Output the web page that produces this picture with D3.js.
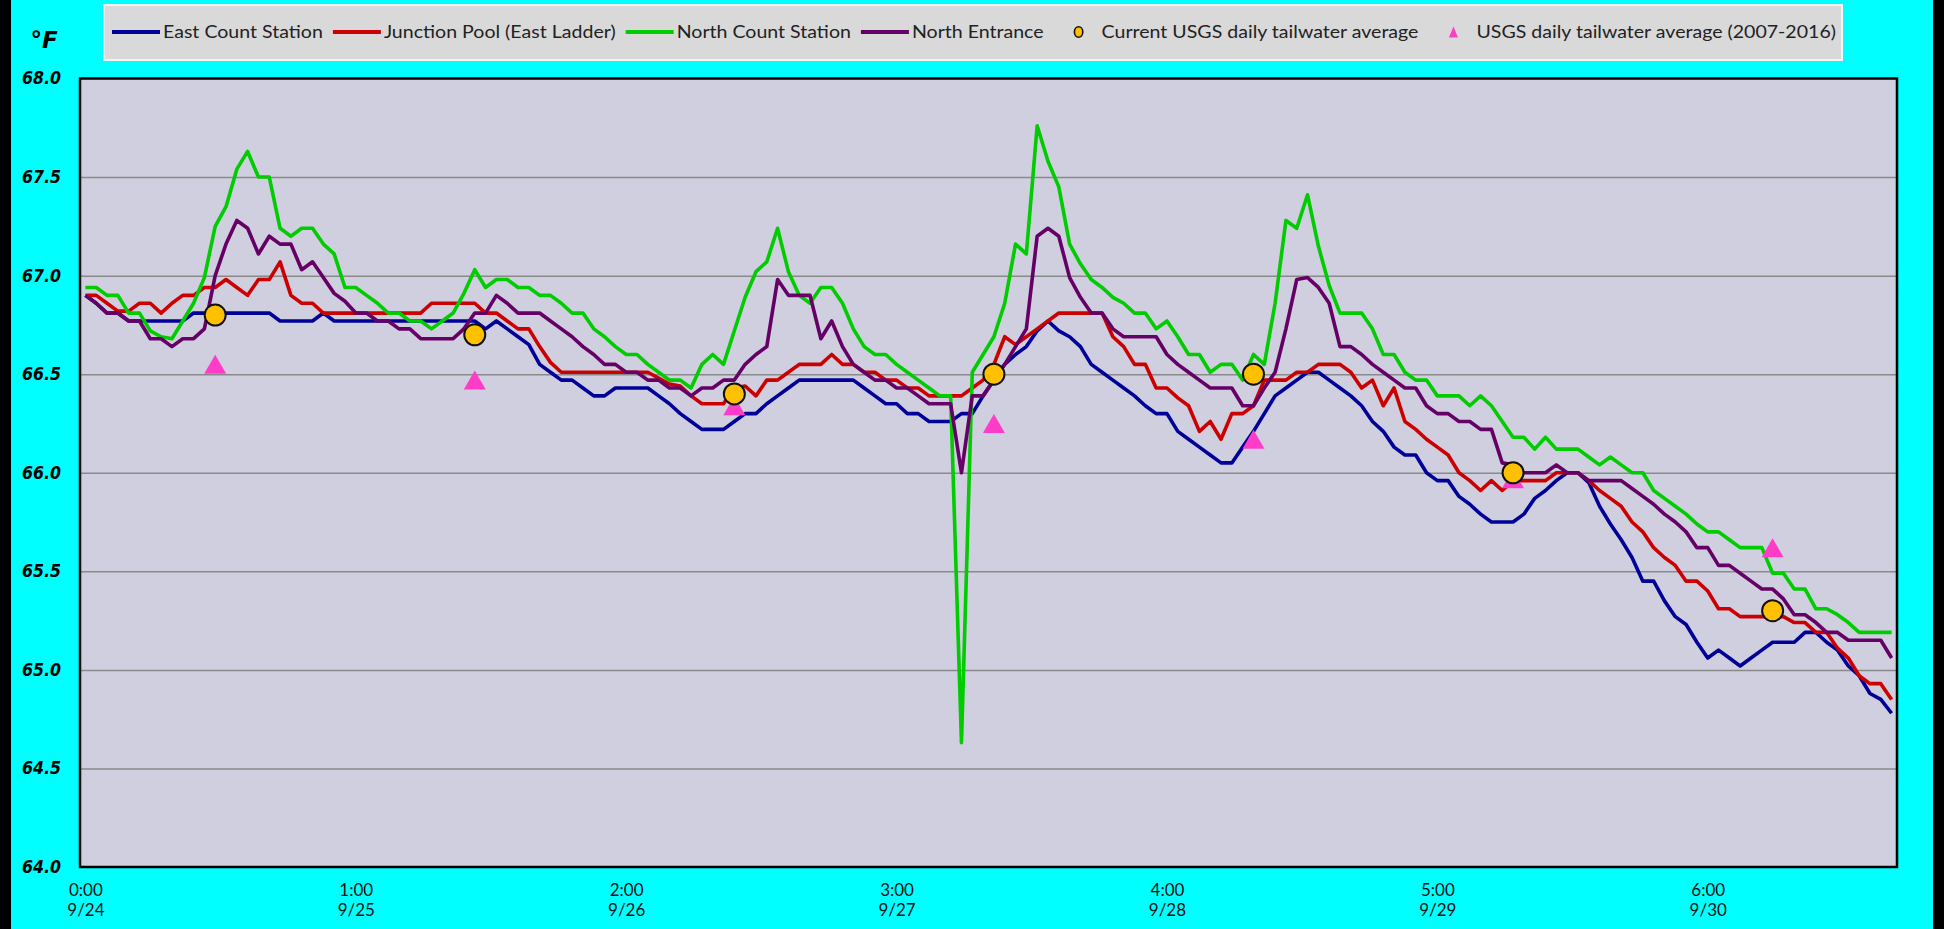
<!DOCTYPE html>
<html>
<head>
<meta charset="utf-8">
<script src="https://cdn.jsdelivr.net/npm/d3@7"></script>
<style>
  body { margin: 0; background: #00ffff; overflow: hidden; }
  svg { display: block; }
</style>
</head>
<body>
<div id="chart"></div>
<script>
// hourly readings, 9/24 0:00 .. 9/30 23:00
const eastCount = [
  66.90, 66.86, 66.81, 66.81, 66.77, 66.77, 66.77, 66.77, 66.77, 66.77,
  66.81, 66.81, 66.81, 66.81, 66.81, 66.81, 66.81, 66.81, 66.77, 66.77,
  66.77, 66.77, 66.81, 66.77, 66.77, 66.77, 66.77, 66.77, 66.77, 66.77,
  66.77, 66.77, 66.77, 66.77, 66.77, 66.77, 66.77, 66.73, 66.77, 66.73,
  66.69, 66.65, 66.55, 66.51, 66.47, 66.47, 66.43, 66.39, 66.39, 66.43,
  66.43, 66.43, 66.43, 66.39, 66.35, 66.30, 66.26, 66.22, 66.22, 66.22,
  66.26, 66.30, 66.30, 66.35, 66.39, 66.43, 66.47, 66.47, 66.47, 66.47,
  66.47, 66.47, 66.43, 66.39, 66.35, 66.35, 66.30, 66.30, 66.26, 66.26,
  66.26, 66.30, 66.30, 66.39, 66.47, 66.55, 66.60, 66.64, 66.72, 66.77,
  66.72, 66.69, 66.64, 66.55, 66.51, 66.47, 66.43, 66.39, 66.34, 66.30,
  66.30, 66.21, 66.17, 66.13, 66.09, 66.05, 66.05, 66.13, 66.21, 66.30,
  66.39, 66.43, 66.47, 66.51, 66.51, 66.47, 66.43, 66.39, 66.34, 66.26,
  66.21, 66.13, 66.09, 66.09, 66.00, 65.96, 65.96, 65.88, 65.84, 65.79,
  65.75, 65.75, 65.75, 65.79, 65.87, 65.91, 65.96, 66.00, 66.00, 65.95,
  65.83, 65.74, 65.66, 65.57, 65.45, 65.45, 65.35, 65.27, 65.23, 65.14,
  65.06, 65.10, 65.06, 65.02, 65.06, 65.10, 65.14, 65.14, 65.14, 65.19,
  65.19, 65.14, 65.10, 65.02, 64.97, 64.88, 64.85, 64.78
];
const junctionPool = [
  66.90, 66.90, 66.86, 66.82, 66.82, 66.86, 66.86, 66.81, 66.86, 66.90,
  66.90, 66.94, 66.94, 66.98, 66.94, 66.90, 66.98, 66.98, 67.07, 66.90,
  66.86, 66.86, 66.81, 66.81, 66.81, 66.81, 66.81, 66.81, 66.81, 66.81,
  66.81, 66.81, 66.86, 66.86, 66.86, 66.86, 66.86, 66.81, 66.81, 66.77,
  66.73, 66.73, 66.64, 66.56, 66.51, 66.51, 66.51, 66.51, 66.51, 66.51,
  66.51, 66.51, 66.51, 66.48, 66.45, 66.44, 66.39, 66.35, 66.35, 66.35,
  66.43, 66.44, 66.39, 66.47, 66.47, 66.51, 66.55, 66.55, 66.55, 66.60,
  66.55, 66.55, 66.51, 66.51, 66.47, 66.47, 66.43, 66.43, 66.39, 66.39,
  66.39, 66.39, 66.43, 66.47, 66.55, 66.69, 66.65, 66.69, 66.73, 66.77,
  66.81, 66.81, 66.81, 66.81, 66.81, 66.69, 66.64, 66.55, 66.55, 66.43,
  66.43, 66.38, 66.34, 66.21, 66.26, 66.17, 66.30, 66.30, 66.34, 66.47,
  66.47, 66.47, 66.51, 66.51, 66.55, 66.55, 66.55, 66.51, 66.43, 66.47,
  66.34, 66.43, 66.26, 66.22, 66.17, 66.13, 66.09, 66.00, 65.96, 65.91,
  65.96, 65.91, 65.96, 65.96, 65.96, 65.96, 66.00, 66.00, 66.00, 65.96,
  65.91, 65.87, 65.83, 65.75, 65.70, 65.62, 65.57, 65.53, 65.45, 65.45,
  65.40, 65.31, 65.31, 65.27, 65.27, 65.27, 65.27, 65.27, 65.24, 65.24,
  65.19, 65.19, 65.11, 65.06, 64.97, 64.93, 64.93, 64.85
];
const northCount = [
  66.94, 66.94, 66.90, 66.90, 66.81, 66.81, 66.72, 66.69, 66.68, 66.77,
  66.86, 66.99, 67.25, 67.35, 67.54, 67.63, 67.50, 67.50, 67.24, 67.20,
  67.24, 67.24, 67.16, 67.11, 66.94, 66.94, 66.90, 66.86, 66.81, 66.81,
  66.77, 66.77, 66.73, 66.77, 66.81, 66.91, 67.03, 66.94, 66.98, 66.98,
  66.94, 66.94, 66.90, 66.90, 66.86, 66.81, 66.81, 66.73, 66.69, 66.64,
  66.60, 66.60, 66.55, 66.51, 66.47, 66.47, 66.43, 66.55, 66.60, 66.55,
  66.72, 66.89, 67.02, 67.07, 67.24, 67.02, 66.90, 66.86, 66.94, 66.94,
  66.86, 66.73, 66.64, 66.60, 66.60, 66.55, 66.51, 66.47, 66.43, 66.39,
  66.39, 64.63, 66.51, 66.60, 66.69, 66.86, 67.16, 67.11, 67.76, 67.58,
  67.45, 67.16, 67.06, 66.98, 66.94, 66.89, 66.86, 66.81, 66.81, 66.73,
  66.77, 66.69, 66.60, 66.60, 66.51, 66.55, 66.55, 66.47, 66.60, 66.55,
  66.86, 67.28, 67.24, 67.41, 67.15, 66.95, 66.81, 66.81, 66.81, 66.73,
  66.60, 66.60, 66.51, 66.47, 66.47, 66.39, 66.39, 66.39, 66.34, 66.39,
  66.34, 66.26, 66.18, 66.18, 66.12, 66.18, 66.12, 66.12, 66.12, 66.08,
  66.04, 66.08, 66.04, 66.00, 66.00, 65.91, 65.87, 65.83, 65.79, 65.74,
  65.70, 65.70, 65.66, 65.62, 65.62, 65.62, 65.49, 65.49, 65.41, 65.41,
  65.31, 65.31, 65.28, 65.24, 65.19, 65.19, 65.19, 65.19
];
const northEntrance = [
  66.90, 66.86, 66.81, 66.81, 66.77, 66.77, 66.68, 66.68, 66.64, 66.68,
  66.68, 66.73, 67.00, 67.16, 67.28, 67.24, 67.11, 67.20, 67.16, 67.16,
  67.03, 67.07, 66.99, 66.91, 66.87, 66.81, 66.81, 66.77, 66.77, 66.73,
  66.73, 66.68, 66.68, 66.68, 66.68, 66.73, 66.81, 66.81, 66.90, 66.86,
  66.81, 66.81, 66.81, 66.77, 66.73, 66.69, 66.64, 66.60, 66.55, 66.55,
  66.51, 66.51, 66.47, 66.47, 66.43, 66.43, 66.39, 66.43, 66.43, 66.47,
  66.47, 66.55, 66.60, 66.64, 66.98, 66.90, 66.90, 66.90, 66.68, 66.77,
  66.64, 66.55, 66.51, 66.47, 66.47, 66.43, 66.43, 66.39, 66.35, 66.35,
  66.35, 66.00, 66.39, 66.39, 66.47, 66.55, 66.64, 66.73, 67.20, 67.24,
  67.20, 66.99, 66.89, 66.81, 66.81, 66.73, 66.69, 66.69, 66.69, 66.69,
  66.60, 66.55, 66.51, 66.47, 66.43, 66.43, 66.43, 66.34, 66.34, 66.43,
  66.51, 66.73, 66.98, 66.99, 66.94, 66.86, 66.64, 66.64, 66.60, 66.55,
  66.51, 66.47, 66.43, 66.43, 66.34, 66.30, 66.30, 66.26, 66.26, 66.22,
  66.22, 66.05, 66.04, 66.00, 66.00, 66.00, 66.04, 66.00, 66.00, 65.96,
  65.96, 65.96, 65.96, 65.92, 65.88, 65.84, 65.79, 65.75, 65.70, 65.62,
  65.62, 65.53, 65.53, 65.49, 65.45, 65.41, 65.41, 65.36, 65.28, 65.28,
  65.24, 65.19, 65.19, 65.15, 65.15, 65.15, 65.15, 65.06
];

// daily markers (placed at noon of each day)
const markerHours = [12, 36, 60, 84, 108, 132, 156];
const usgsCurrent = [66.8, 66.7, 66.4, 66.5, 66.5, 66.0, 65.3];
const usgsHistoric = [66.55, 66.47, 66.34, 66.25, 66.17, 65.97, 65.62];

const tickHours = [0, 25, 50, 75, 100, 125, 150];
const tickTimes = ['0:00', '1:00', '2:00', '3:00', '4:00', '5:00', '6:00'];
const tickDates = ['9/24', '9/25', '9/26', '9/27', '9/28', '9/29', '9/30'];
const yTicks = [64.0, 64.5, 65.0, 65.5, 66.0, 66.5, 67.0, 67.5, 68.0];

const seriesNames = ['East Count Station', 'Junction Pool (East Ladder)', 'North Count Station', 'North Entrance'];
const seriesColors = ['#000099', '#cc0000', '#00cc00', '#660066'];
const seriesData = [eastCount, junctionPool, northCount, northEntrance];

const width = 1944;
const height = 929;
const plot = { left: 80, right: 1897, top: 78.5, bottom: 867 };

const svg = d3.select('#chart')
    .append('svg')
    .attr('width', width)
    .attr('height', height);

// background + side bars
svg.append('rect').attr('width', width).attr('height', height).attr('fill', '#00ffff');
svg.append('rect').attr('x', 0).attr('y', 0).attr('width', 11).attr('height', height).attr('fill', '#000');
svg.append('rect').attr('x', 1933).attr('y', 0).attr('width', 11).attr('height', height).attr('fill', '#000');

const x = d3.scaleLinear()
    .domain([-0.5, eastCount.length - 0.5])
    .range([plot.left, plot.right]);

const y = d3.scaleLinear()
    .domain([64, 68])
    .range([plot.bottom, plot.top]);

// plot area
svg.append('rect')
    .attr('x', plot.left)
    .attr('y', plot.top)
    .attr('width', plot.right - plot.left)
    .attr('height', plot.bottom - plot.top)
    .attr('fill', '#cfcfe0');

// gridlines
const grid = svg.append('g')
    .attr('transform', `translate(${plot.left},0)`)
    .call(d3.axisLeft(y)
        .tickValues(yTicks.slice(1, -1))
        .tickSize(-(plot.right - plot.left))
        .tickFormat(''));
grid.select('.domain').remove();
grid.selectAll('line').attr('stroke', '#8a8a8a').attr('stroke-width', 1.5);

// y labels
const yAxis = svg.append('g')
    .attr('transform', `translate(${plot.left},0)`)
    .call(d3.axisLeft(y)
        .tickValues(yTicks)
        .tickSize(0)
        .tickPadding(19)
        .tickFormat(d3.format('.1f')));
yAxis.select('.domain').remove();
yAxis.selectAll('text')
    .attr('fill', '#000')
    .attr('textLength', 39)
    .attr('lengthAdjust', 'spacingAndGlyphs')
    .style('font-family', '"DejaVu Sans", Verdana, sans-serif')
    .style('font-weight', 'bold')
    .style('font-style', 'italic')
    .style('font-size', '17px');

// unit label
svg.append('text')
    .attr('x', 44)
    .attr('y', 48)
    .attr('text-anchor', 'middle')
    .style('font-family', '"DejaVu Sans", Verdana, sans-serif')
    .style('font-weight', 'bold')
    .style('font-style', 'italic')
    .style('font-size', '23px')
    .text('°F');

// x labels, two lines each
const xAxis = svg.append('g')
    .attr('transform', `translate(0,${plot.bottom})`)
    .call(d3.axisBottom(x)
        .tickValues(tickHours)
        .tickSize(0)
        .tickFormat(''));
xAxis.select('.domain').remove();
xAxis.selectAll('.tick text').each(function(d, i) {
    const t = d3.select(this)
        .attr('y', null)
        .attr('dy', null)
        .attr('fill', '#111')
        .style('font-family', 'Lato, "Open Sans", sans-serif')
        .style('font-size', '17px');
    t.append('tspan').attr('x', 0).attr('y', 29).text(tickTimes[i]);
    t.append('tspan').attr('x', 0).attr('y', 49).text(tickDates[i]);
});

// series lines
const line = d3.line()
    .x((d, i) => x(i))
    .y(d => y(d));

svg.append('g')
    .selectAll('path')
    .data(seriesData)
    .enter()
    .append('path')
    .attr('d', d => line(d))
    .attr('fill', 'none')
    .attr('stroke', (d, i) => seriesColors[i])
    .attr('stroke-width', 3.6)
    .attr('stroke-linejoin', 'round');

// markers
const triPath = (w, h) => `M0,${-h / 2}L${w / 2},${h / 2}L${-w / 2},${h / 2}Z`;

svg.append('g')
    .selectAll('path')
    .data(usgsHistoric)
    .enter()
    .append('path')
    .attr('transform', (d, i) => `translate(${x(markerHours[i])},${y(d)})`)
    .attr('d', triPath(22, 19))
    .attr('fill', '#ff3cc8');

svg.append('g')
    .selectAll('circle')
    .data(usgsCurrent)
    .enter()
    .append('circle')
    .attr('cx', (d, i) => x(markerHours[i]))
    .attr('cy', d => y(d))
    .attr('r', 10.5)
    .attr('fill', '#ffc000')
    .attr('stroke', '#111')
    .attr('stroke-width', 2);

// plot border
svg.append('rect')
    .attr('x', plot.left)
    .attr('y', plot.top)
    .attr('width', plot.right - plot.left)
    .attr('height', plot.bottom - plot.top)
    .attr('fill', 'none')
    .attr('stroke', '#000')
    .attr('stroke-width', 2.5);

// legend
const legendBox = { left: 104, top: 5, right: 1842, bottom: 60 };
svg.append('rect')
    .attr('x', legendBox.left)
    .attr('y', legendBox.top)
    .attr('width', legendBox.right - legendBox.left)
    .attr('height', legendBox.bottom - legendBox.top)
    .attr('fill', '#d9d9d9')
    .attr('stroke', '#f4f4f4')
    .attr('stroke-width', 2);

const legendItems = seriesNames.map((name, i) => ({ name, type: 'line', color: seriesColors[i] }))
    .concat([
        { name: 'Current USGS daily tailwater average', type: 'circle' },
        { name: 'USGS daily tailwater average (2007-2016)', type: 'triangle' }
    ]);

const legend = svg.append('g');
const legendTexts = legend.selectAll('text')
    .data(legendItems)
    .enter()
    .append('text')
    .attr('y', 38)
    .attr('fill', '#222')
    .style('font-family', 'Lato, "Open Sans", sans-serif')
    .style('font-size', '17.5px')
    .text(d => d.name);

// gaps before/after each legend symbol
const sampleW = 48;
const gapFor = d => d.type === 'line' ? [10, sampleW, 3] : [30, 10, 18];
const natural = legendTexts.nodes().map(n => n.getComputedTextLength());
const fixed = d3.sum(legendItems, (d, i) => d3.sum(gapFor(d)) - (i === 0 ? 2 : 0));
const k = (legendBox.right - 6 - legendBox.left - fixed) / d3.sum(natural);

let cursor = legendBox.left - 2;
legendItems.forEach((d, i) => {
    const [g0, sw, g1] = gapFor(d);
    const sx = cursor + g0;
    if (d.type === 'line') {
        legend.append('line')
            .attr('x1', sx).attr('x2', sx + sw)
            .attr('y1', 32).attr('y2', 32)
            .attr('stroke', d.color)
            .attr('stroke-width', 4);
    } else if (d.type === 'circle') {
        legend.append('ellipse')
            .attr('cx', sx + sw / 2).attr('cy', 32)
            .attr('rx', 4.2).attr('ry', 5.2)
            .attr('fill', '#ffc000')
            .attr('stroke', '#111')
            .attr('stroke-width', 1.6);
    } else {
        legend.append('path')
            .attr('transform', `translate(${sx + sw / 2},32)`)
            .attr('d', triPath(9, 11))
            .attr('fill', '#ff3cc8');
    }
    const tx = sx + sw + g1;
    const w = natural[i] * k;
    d3.select(legendTexts.nodes()[i])
        .attr('x', tx)
        .attr('textLength', w)
        .attr('lengthAdjust', 'spacingAndGlyphs');
    cursor = tx + w;
});
</script>
</body>
</html>
